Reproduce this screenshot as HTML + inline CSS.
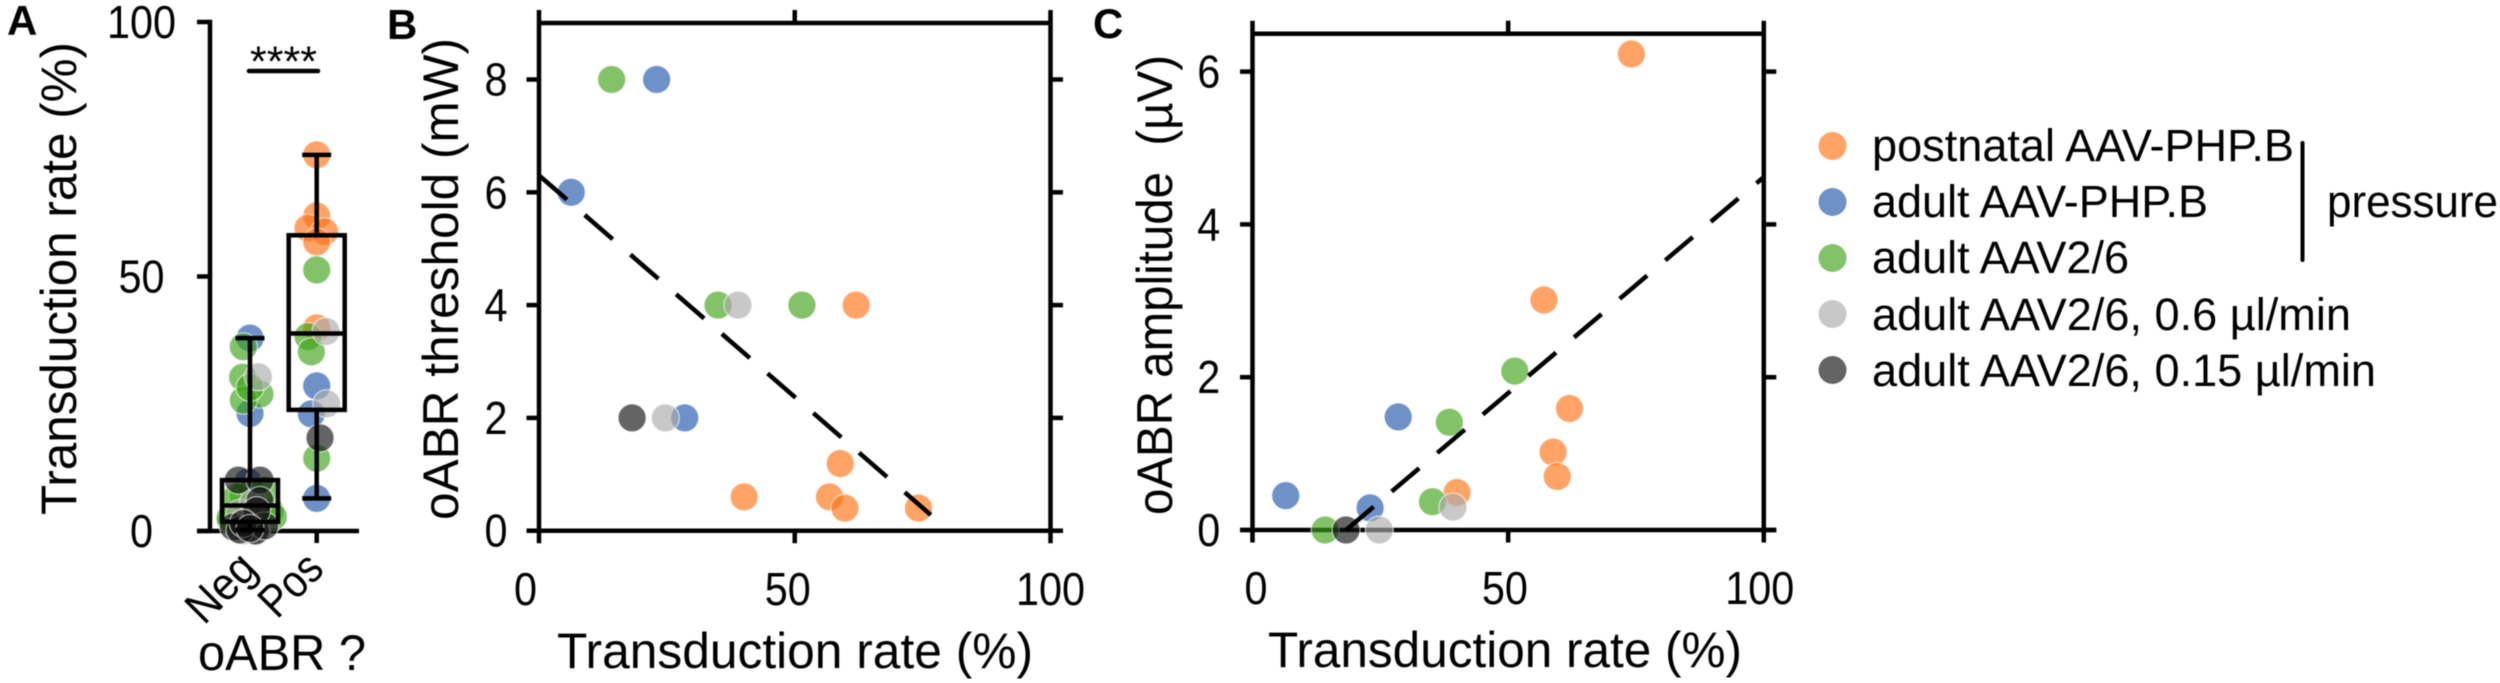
<!DOCTYPE html>
<html lang="en">
<head>
<meta charset="utf-8">
<title>Transduction rate and oABR</title>
<style>
html,body{margin:0;padding:0;background:#fff;}
svg{display:block;width:2500px;height:683px;font-family:"Liberation Sans",sans-serif;fill:#000;filter:blur(0.6px);}
</style>
</head>
<body>
<svg id="chart" xmlns="http://www.w3.org/2000/svg" width="2500" height="683" viewBox="0 0 2500 683">
  <rect width="2500" height="683" fill="#fff"/>
  <g id="panelA"></g>
  <g id="panelB"></g>
  <g id="panelC"></g>

  <text x="7" y="35" font-size="42" font-weight="bold">A</text>
  <text x="387" y="39" font-size="42" font-weight="bold">B</text>
  <text x="1093" y="38" font-size="42" font-weight="bold">C</text>

  <text transform="translate(76,515) rotate(-90)" font-size="50" textLength="473" lengthAdjust="spacingAndGlyphs">Transduction rate (%)</text>
  <text transform="translate(204,626) rotate(-45)" font-size="46" textLength="78" lengthAdjust="spacingAndGlyphs">Neg</text>
  <text transform="translate(277,620) rotate(-45)" font-size="46" textLength="69" lengthAdjust="spacingAndGlyphs">Pos</text>
  <text x="198" y="670" font-size="50" textLength="168" lengthAdjust="spacingAndGlyphs">oABR ?</text>
  <text x="250" y="76" font-size="43" textLength="67" lengthAdjust="spacingAndGlyphs">****</text>
  <line x1="249" y1="71" x2="318" y2="71" stroke="#000" stroke-width="4.5" stroke-linecap="round"/>

  <text transform="translate(458,520) rotate(-90)" font-size="50" textLength="482" lengthAdjust="spacingAndGlyphs">oABR threshold (mW)</text>
  <text x="557" y="668" font-size="50" textLength="476" lengthAdjust="spacingAndGlyphs">Transduction rate (%)</text>

  <text transform="translate(1172,515) rotate(-90)" font-size="50" textLength="460" lengthAdjust="spacingAndGlyphs" xml:space="preserve">oABR amplitude  (µV)</text>
  <text x="1268" y="667" font-size="50" textLength="474" lengthAdjust="spacingAndGlyphs">Transduction rate (%)</text>

  <g>
    <g>
      <circle cx="1832.5" cy="146" r="14" fill="#ff7216" fill-opacity=".65"/>
      <text x="1872" y="161" font-size="45" textLength="422" lengthAdjust="spacingAndGlyphs">postnatal AAV-PHP.B</text>
    </g>
    <g>
      <circle cx="1832.5" cy="202" r="14" fill="#2056ab" fill-opacity=".65"/>
      <text x="1872" y="217" font-size="45" textLength="336" lengthAdjust="spacingAndGlyphs">adult AAV-PHP.B</text>
    </g>
    <g>
      <circle cx="1832.5" cy="258" r="14" fill="#3fa319" fill-opacity=".65"/>
      <text x="1872" y="273" font-size="45" textLength="257" lengthAdjust="spacingAndGlyphs">adult AAV2/6</text>
    </g>
    <g>
      <circle cx="1832.5" cy="314" r="14" fill="#ababab" fill-opacity=".65"/>
      <text x="1872" y="330" font-size="45" textLength="479" lengthAdjust="spacingAndGlyphs">adult AAV2/6, 0.6 µl/min</text>
    </g>
    <g>
      <circle cx="1832.5" cy="370" r="14" fill="#111" fill-opacity=".65"/>
      <text x="1872" y="386" font-size="45" textLength="504" lengthAdjust="spacingAndGlyphs">adult AAV2/6, 0.15 µl/min</text>
    </g>
    <line x1="2302.5" y1="143" x2="2302.5" y2="260" stroke="#000" stroke-width="4" stroke-linecap="round"/>
    <text x="2327" y="217" font-size="45" textLength="171" lengthAdjust="spacingAndGlyphs">pressure</text>
  </g>
</svg>

<script>
// Series colours are indexed by the group values below
const groupNames = ['postnatal-php', 'adult-php', 'adult-aav26', 'aav26-06', 'aav26-015'];
const groupColors = ['#ff7216', '#2056ab', '#3fa319', '#ababab', '#111111'];

// Panel A: swarm/box
const aCategories = ['Neg', 'Pos'];
const aTicks = [0, 50, 100];

const negGroup = [
  1, 1, 1,
  2, 2, 2, 2, 2, 2, 2, 2, 2, 2,
  2, 2, 2, 2, 2, 2, 2, 2, 2,
  3, 3, 3, 3, 3,
  4, 4, 4, 4, 4, 4, 4, 4, 4, 4
];
const negJitter = [
  0, 0, -.03,
  -.05, .1, -.1, .15, -.2, .3, .05, -.28, -.1, -.11,
  .15, -.1, 0, 0, .02, .22, .35, -.3, -.2,
  .125, -.1, .1, -.15, .05,
  -.175, .15, .15, -.25, .08, .22, -.15, .1, -.1, 0
];
const negValue = [
  37.9, 23.1, 9.7,
  5, 4.5, 7, 3, 3, 4, 6, 2, 36.2, 30.2,
  26.9, 25.7, 28.2, 3.5, 7.7, 8, 2.8, 2.5, 6.7,
  30.3, 0, 0, 3.5, 5.5,
  10, 10, 6, .8, 0, 1, .2, 4, 1.5, .5
];

const posGroup = [0, 0, 0, 0, 0, 0, 2, 2, 2, 2, 1, 1, 1, 3, 3, 4];
const posJitter = [0, 0, -.13, .12, 0, 0, 0, -.13, -.08, 0, 0, -.08, 0, .14, .15, .05];
const posValue = [73.9, 61.9, 59.5, 58.8, 56.8, 39.9, 51.3, 38.2, 35.2, 14.3, 28.5, 23, 6.4, 39.2, 25, 18.3];

const boxQ1 = [1.8, 23.8];
const boxMedian = [5, 38.8];
const boxQ3 = [10, 58.1];
const whiskerLow = [0.2, 6.4];
const whiskerHigh = [37.9, 73.9];

// Panel B: threshold scatter
const bTicksX = [0, 50, 100];
const bTicksY = [0, 2, 4, 6, 8];
const bGroup = [0,0,0,0,0,0,1,1,1,2,2,2,3,3,4];
const bX = [62,58.9,40.1,56.8,59.8,74.2,23,6.3,28.5,14.2,35,51.4,38.9,24.7,18.2];
const bY = [4,1.19,.6,.6,.4,.4,8,6,2,8,4,4,4,2,2];
const bFitX = [0, 76.6];
const bFitY = [6.3, 0.28];

// Panel C: amplitude scatter
const cTicksX = [0, 50, 100];
const cTicksY = [0, 2, 4, 6];
const cGroup = [0,0,0,0,0,0,1,1,1,2,2,2,2,3,3,4];
const cX = [74.1,57,62,58.8,59.6,40,28.5,6.5,23,51.3,38.5,35.2,14.2,39.2,24.8,18.3];
const cY = [6.23,3.01,1.59,1.02,.7,.49,1.48,.45,.29,2.08,1.41,.37,0,.3,0,0];
const cFitX = [18.3, 100];
const cFitY = [0, 4.62];

const NS = 'http://www.w3.org/2000/svg';
const SW = 4.5;
function make(tag, parent, attrs) {
  const el = document.createElementNS(NS, tag);
  for (const k in attrs) el.setAttribute(k, attrs[k]);
  parent.appendChild(el);
  return el;
}
function seg(parent, x1, y1, x2, y2, name) {
  const el = make('line', parent, {x1, y1, x2, y2, stroke: '#000', 'stroke-width': SW});
  
  
  return el;
}
function tickText(parent, x, baseline, label, name) {
  const el = make('text', parent, {x, y: baseline, 'font-size': 46, 'text-anchor': 'middle', textLength: 23 * String(label).length, lengthAdjust: 'spacingAndGlyphs'});
  el.textContent = label;
  
  
  return el;
}
function dot(parent, x, y, group) {
  const el = make('circle', parent, {cx: x, cy: y, r: 14, fill: groupColors[group], 'fill-opacity': .65, stroke: '#fff', 'stroke-opacity': .65, 'stroke-width': 1.2});
  
  
  return el;
}

/* ---------- Panel A ---------- */
const panelA = document.getElementById('panelA');
const aYs = v => 531 - v * 5.09;
const aXs = c => 250 + c * 66.7;
seg(panelA, 210, 19.8, 210, 533, 'panel-a-y-axis');
seg(panelA, 197, aYs(0), 359, aYs(0), 'panel-a-x-axis');
aTicks.forEach(t => {
  seg(panelA, 197, aYs(t), 210, aYs(t), 'panel-a-y-tick');
  tickText(panelA, 141.5, aYs(t) + 16, t, 'panel-a-y-tick-label');
});
aCategories.forEach((c, i) => {
  seg(panelA, aXs(i), aYs(0), aXs(i), 543, 'panel-a-x-tick-' + c.toLowerCase());
});
negValue.forEach((v, i) => {
  dot(panelA, aXs(0 + negJitter[i]), aYs(v), negGroup[i]);
});
posValue.forEach((v, i) => {
  dot(panelA, aXs(1 + posJitter[i]), aYs(v), posGroup[i]);
});
aCategories.forEach((c, i) => {
  const n = c.toLowerCase();
  const x = aXs(i);
  seg(panelA, x, aYs(whiskerHigh[i]), x, aYs(boxQ3[i]), 'whisker-top-' + n);
  seg(panelA, x, aYs(boxQ1[i]), x, aYs(whiskerLow[i]), 'whisker-bottom-' + n);
  seg(panelA, x - 14.5, aYs(whiskerHigh[i]), x + 14.5, aYs(whiskerHigh[i]), 'whisker-cap-top-' + n);
  seg(panelA, x - 14.5, aYs(whiskerLow[i]), x + 14.5, aYs(whiskerLow[i]), 'whisker-cap-bottom-' + n);
  const box = make('rect', panelA, {x: x - 28, y: aYs(boxQ3[i]), width: 56, height: aYs(boxQ1[i]) - aYs(boxQ3[i]), fill: 'none', stroke: '#000', 'stroke-width': SW});
  
  
  seg(panelA, x - 28, aYs(boxMedian[i]), x + 28, aYs(boxMedian[i]), 'median-' + n);
});

/* ---------- Scatter panels ---------- */
function scatter(parent, key, f) {
  const xs = v => f.x0 + v * f.kx;
  const ys = v => f.y0 - v * f.ky;
  const L = xs(0), R = xs(100), T = f.top, B = ys(0);
  seg(parent, L, T - 13, L, B + 12.5, key + '-left-spine');
  seg(parent, R, T - 13, R, B + 12.5, key + '-right-spine');
  seg(parent, L - 2, T, R + 2, T, key + '-top-spine');
  seg(parent, L - 12.5, B, R + 12.5, B, key + '-bottom-spine');
  f.ticksY.forEach(t => {
    seg(parent, L - 12.5, ys(t), L, ys(t), key + '-y-tick');
    seg(parent, R, ys(t), R + 12.5, ys(t), key + '-right-tick');
    tickText(parent, f.yLabelX, ys(t) + 16, t, key + '-y-tick-label');
  });
  f.ticksX.forEach((t, i) => {
    if (t === 50) seg(parent, xs(t), T - 13, xs(t), T, key + '-top-tick');
    if (t === 50) seg(parent, xs(t), B, xs(t), B + 12.5, key + '-x-tick');
    tickText(parent, xs(t) + f.xLabelShift[i], f.xLabelBase, t, key + '-x-tick-label');
  });
  f.vx.forEach((v, i) => {
    dot(parent, xs(v), ys(f.vy[i]), f.group[i]);
  });
  const fit = make('line', parent, {x1: xs(f.fitX[0]), y1: ys(f.fitY[0]), x2: xs(f.fitX[1]), y2: ys(f.fitY[1]), stroke: '#000', 'stroke-width': SW, 'stroke-dasharray': f.dash});
  
  
}

const panelB = document.getElementById('panelB');
scatter(panelB, 'panel-b', {x0: 539, kx: 5.115, y0: 530.7, ky: 56.4, top: 23, ticksX: bTicksX, ticksY: bTicksY, yLabelX: 496, xLabelShift: [-13.5, -7, 0], xLabelBase: 605, vx: bX, vy: bY, group: bGroup, fitX: bFitX, fitY: bFitY, dash: '37 23.5'});

const panelC = document.getElementById('panelC');
scatter(panelC, 'panel-c', {x0: 1252.5, kx: 5.113, y0: 530, ky: 76.4, top: 33.7, ticksX: cTicksX, ticksY: cTicksY, yLabelX: 1208.7, xLabelShift: [3.5, -3.3, -4], xLabelBase: 604, vx: cX, vy: cY, group: cGroup, fitX: cFitX, fitY: cFitY, dash: '36 23.7'});
</script>
</body>
</html>
